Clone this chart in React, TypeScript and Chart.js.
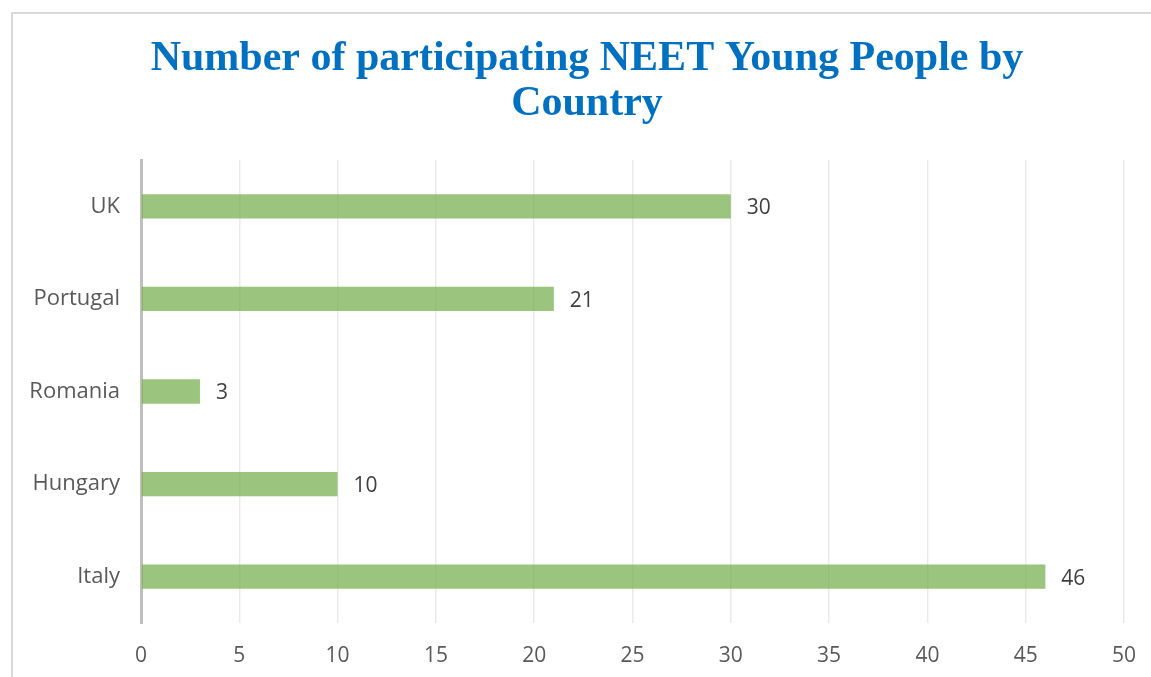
import React, { useEffect, useRef } from "react";
import { Chart, registerables } from "chart.js";

Chart.register(...registerables);

const categories = ["UK", "Portugal", "Romania", "Hungary", "Italy"];
const participants = [30, 21, 3, 10, 46];
const titleLines = ["Number of participating NEET Young People by", "Country"];
const axisMin = 0;
const axisMax = 50;
const axisStep = 5;

const labelFont = "'Open Sans', sans-serif";

const dataLabelPlugin = {
  id: "dataLabels",
  afterDatasetsDraw(chart: any) {
    const ctx = chart.ctx;
    const meta = chart.getDatasetMeta(0);
    const ds = chart.data.datasets[0];
    ctx.save();
    ctx.font = `21px ${labelFont}`;
    ctx.fillStyle = "#404040";
    ctx.textAlign = "left";
    ctx.textBaseline = "middle";
    meta.data.forEach((bar: any, i: number) => {
      ctx.fillText(String(ds.data[i]), bar.x + 16, bar.y + 2);
    });
    ctx.restore();
  },
};

const titlePlugin = {
  id: "centeredTitle",
  afterDraw(chart: any) {
    const ctx = chart.ctx;
    ctx.save();
    ctx.font = "bold 42px 'Liberation Serif', serif";
    ctx.fillStyle = "#0070C0";
    ctx.textAlign = "center";
    ctx.textBaseline = "alphabetic";
    titleLines.forEach((line, i) => {
      ctx.fillText(line, 587, 70 + i * 45);
    });
    ctx.restore();
  },
};

export default function App() {
  const ref = useRef<HTMLCanvasElement | null>(null);
  useEffect(() => {
    if (!ref.current) return;
    const chart = new Chart(ref.current, {
      type: "bar",
      data: {
        labels: categories,
        datasets: [
          {
            data: participants,
            backgroundColor: "rgba(112,173,71,0.7)",
            borderWidth: 0,
            barPercentage: 1,
            categoryPercentage: 0.262,
          },
        ],
      },
      plugins: [dataLabelPlugin, titlePlugin],
      options: {
        indexAxis: "y",
        animation: false,
        responsive: false,
        maintainAspectRatio: false,
        layout: { padding: { left: 0, right: 27, top: 160, bottom: 0 } },
        plugins: {
          legend: { display: false },
          tooltip: { enabled: false },
          title: { display: false },
        },
        scales: {
          x: {
            min: axisMin,
            max: axisMax,
            ticks: {
              stepSize: axisStep,
              color: "#595959",
              font: { family: labelFont, size: 21 },
              padding: 20,
            },
            grid: { color: "#ebebeb", lineWidth: 1.5, drawTicks: false },
            border: { display: false },
            afterFit: (s: any) => {
              s.height = 54;
              s.paddingLeft = 0;
              s.paddingRight = 0;
            },
          },
          y: {
            ticks: {
              color: "#595959",
              font: { family: labelFont, size: 22 },
              padding: 21,
            },
            grid: { display: false, drawTicks: false },
            border: { display: true, color: "#bfbfbf", width: 3 },
            afterFit: (s: any) => {
              s.width = 141;
            },
          },
        },
      },
    } as any);
    return () => chart.destroy();
  }, []);

  return (
    <div style={{ position: "fixed", left: 0, top: 0, width: 1151, height: 677, background: "#fff", overflow: "hidden" }}>
      <div
        style={{
          position: "absolute",
          left: 11,
          top: 12,
          width: 1200,
          height: 700,
          border: "2px solid #d9d9d9",
          boxSizing: "border-box",
        }}
      />
      <canvas ref={ref} width={1151} height={677} style={{ position: "absolute", left: 0, top: 0 }} />
    </div>
  );
}
